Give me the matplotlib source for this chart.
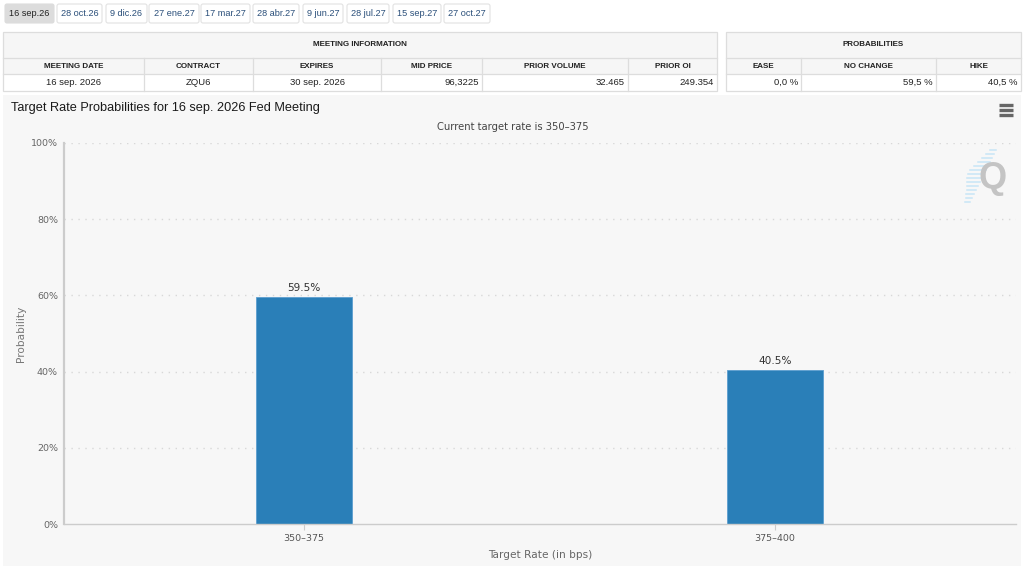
import matplotlib
matplotlib.use("Agg")
import matplotlib.pyplot as plt
from matplotlib.patches import Rectangle, FancyBboxPatch

# ---------------- data ----------------
tabs = ["16 sep.26", "28 oct.26", "9 dic.26", "27 ene.27", "17 mar.27",
        "28 abr.27", "9 jun.27", "28 jul.27", "15 sep.27", "27 oct.27"]
meeting_headers = ["MEETING DATE", "CONTRACT", "EXPIRES", "MID PRICE", "PRIOR VOLUME", "PRIOR OI"]
meeting_values = ["16 sep. 2026", "ZQU6", "30 sep. 2026", "96,3225", "32.465", "249.354"]
prob_headers = ["EASE", "NO CHANGE", "HIKE"]
prob_values = ["0,0 %", "59,5 %", "40,5 %"]
categories = ["350–375", "375–400"]
probabilities = [59.5, 40.5]
yticks = [0, 20, 40, 60, 80, 100]
title = "Target Rate Probabilities for 16 sep. 2026 Fed Meeting"
subtitle = "Current target rate is 350–375"

W, H = 1024, 566
fig = plt.figure(figsize=(W / 100, H / 100), dpi=100)
fig.patch.set_facecolor("white")

# overlay axes in pixel coordinates for page elements
pg = fig.add_axes([0, 0, 1, 1])
pg.set_xlim(0, W)
pg.set_ylim(H, 0)
pg.axis("off")

SANS = ["Liberation Sans", "DejaVu Sans"]
border = "#dddddd"

# ---- tabs ----
tab_x = [5, 57, 106, 149, 201, 253, 303, 347, 393, 444]
tab_r = [54, 102, 147, 199, 250, 299, 343, 389, 441, 490]
for i, t in enumerate(tabs):
    x0, x1 = tab_x[i], tab_r[i]
    fc = "#dcdcdc" if i == 0 else "white"
    ec = "#dcdcdc" if i == 0 else "#e2e2e2"
    pg.add_patch(FancyBboxPatch((x0, 4), x1 - x0, 19, boxstyle="round,pad=0,rounding_size=2",
                                fc=fc, ec=ec, lw=0.8))
    pg.text((x0 + x1) / 2, 13.8, t, ha="center", va="center", fontsize=6.6,
            color="#222" if i == 0 else "#2a4f7a", family=SANS)

# ---- tables ----
def draw_table(cols, header_title, headers, values, aligns):
    x0, x1 = cols[0], cols[-1]
    y0, y1, y2, y3 = 32, 58, 74, 91
    pg.add_patch(Rectangle((x0, y0), x1 - x0, y2 - y0, fc="#f6f6f6", ec="none"))
    pg.add_patch(Rectangle((x0, y2), x1 - x0, y3 - y2, fc="white", ec="none"))
    pg.add_patch(Rectangle((x0, y0), x1 - x0, y3 - y0, fc="none", ec=border, lw=0.9))
    pg.plot([x0, x1], [y1, y1], color=border, lw=0.9)
    pg.plot([x0, x1], [y2, y2], color=border, lw=0.9)
    for c in cols[1:-1]:
        pg.plot([c, c], [y1, y3], color=border, lw=0.9)
    pg.text((x0 + x1) / 2, (y0 + y1) / 2, header_title, ha="center", va="center",
            fontsize=5.8, weight="bold", color="#222", family=SANS)
    for i in range(len(headers)):
        a, b = cols[i], cols[i + 1]
        pg.text((a + b) / 2, (y1 + y2) / 2, headers[i], ha="center", va="center",
                fontsize=5.8, weight="bold", color="#222", family=SANS)
        if aligns[i] == "center":
            pg.text((a + b) / 2, (y2 + y3) / 2, values[i], ha="center", va="center",
                    fontsize=6.8, color="#222", family=SANS)
        else:
            pg.text(b - 3, (y2 + y3) / 2, values[i], ha="right", va="center",
                    fontsize=6.8, color="#222", family=SANS)

draw_table([3, 144, 253, 381, 482, 628, 717], "MEETING INFORMATION", meeting_headers,
           meeting_values, ["center", "center", "center", "right", "right", "right"])
draw_table([726, 801, 936, 1021], "PROBABILITIES", prob_headers, prob_values,
           ["right", "right", "right"])

# ---- chart background ----
pg.add_patch(Rectangle((3, 95), 1018, H - 95, fc="#f7f7f7", ec="none"))
pg.text(11, 107.5, title, ha="left", va="center", fontsize=9.2, color="#1a1a1a", family=SANS)
pg.text(513, 127, subtitle, ha="center", va="center", fontsize=7.2, color="#444",
        family=["DejaVu Sans"])
# menu icon
for yy in (105, 110, 114.5):
    pg.plot([998.5, 1012.5], [yy, yy], color="#666", lw=2.4, solid_capstyle="butt")
# watermark
stripes = [(994, 150, 4), (992, 154, 6), (990, 158, 8), (988, 162, 10), (986, 166, 12),
           (984, 170, 14), (982, 174, 14), (980, 178, 13), (978, 182, 11), (976, 186, 9),
           (974, 190, 7), (972, 194, 6), (970, 198, 4), (968, 202, 3)]
for xa, ya, ln in stripes:
    pg.plot([xa - ln, xa + 2], [ya, ya], color="#c8e6f6", lw=1.1)
pg.text(993, 178, "Q", ha="center", va="center", fontsize=26, weight="bold",
        color="#c4c4c4", family=SANS)

# ---- chart axes ----
L, R, T, B = 63.5, 1016, 143, 524
ax = fig.add_axes([L / W, (H - B) / H, (R - L) / W, (B - T) / H])
ax.patch.set_alpha(0)
x = list(range(len(categories)))
ax.set_xlim(-0.511, 1.512)
ax.set_ylim(0, 100)
for yv in yticks[1:]:
    ax.axhline(yv, color="#d8d8d8", lw=1.0, ls=(0, (1, 4)), zorder=0)
bars = ax.bar(x, probabilities, width=0.204, color="#2a7fb8", edgecolor="#5c9ecf",
              linewidth=0.6, zorder=2)
for xi, v in zip(x, probabilities):
    ax.annotate(f"{v:.1f}%", (xi, v), xytext=(0, 3), textcoords="offset points",
                ha="center", va="bottom", fontsize=7.6, color="#333",
                family=["DejaVu Sans"])
for s in ["top", "right"]:
    ax.spines[s].set_visible(False)
ax.spines["left"].set_color("#cccccc")
ax.spines["left"].set_linewidth(1.6)
ax.spines["bottom"].set_color("#cccccc")
ax.spines["bottom"].set_linewidth(1.0)
ax.set_yticks(yticks)
ax.set_yticklabels([f"{v}%" for v in yticks])
ax.tick_params(axis="y", length=0, pad=4, labelsize=6.8, labelcolor="#666")
ax.set_xticks(x)
ax.set_xticklabels(categories)
ax.tick_params(axis="x", length=4, width=0.8, color="#cccccc", pad=3, labelsize=6.8,
               labelcolor="#555")
for lab in ax.get_xticklabels() + ax.get_yticklabels():
    lab.set_family("DejaVu Sans")
ax.set_ylabel("Probability", fontsize=7.6, color="#777", family="DejaVu Sans")
ax.yaxis.set_label_coords((26 - L) / (R - L), 0.5)
ax.set_xlabel("Target Rate (in bps)", fontsize=7.6, color="#666", family="DejaVu Sans",
              labelpad=5)

fig.savefig("out.png", dpi=100, facecolor="white")
